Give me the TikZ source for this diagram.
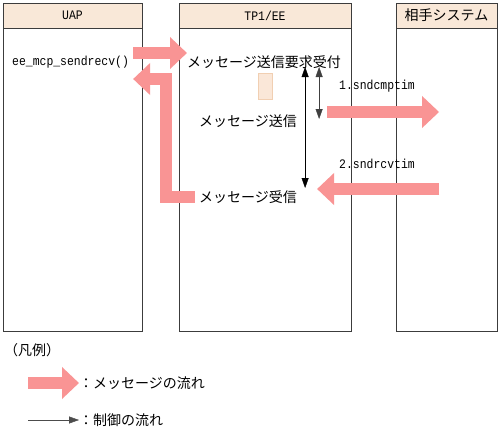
\documentclass[tikz,border=0pt]{standalone}
\usepackage{fontspec}
\newfontfamily\jpfont{Noto Sans CJK JP}
\newfontfamily\mnfont[FakeStretch=0.88]{Liberation Mono}
\usepackage{tikz}
\usetikzlibrary{arrows.meta,positioning,calc,shadows}
\usepackage{xcolor}
\definecolor{Frame}{HTML}{3C3C3C}
\definecolor{Head}{HTML}{F9E8D8}
\definecolor{Flow}{HTML}{F99494}
\definecolor{WaitFill}{HTML}{FAE7D8}
\definecolor{WaitLine}{HTML}{F1CFB2}
\tikzset{
 jtext/.style={inner sep=0pt, font={\jpfont\fontsize{14}{16}\selectfont}},
 mtext/.style={inner sep=0pt, font={\mnfont\fontsize{13}{15}\selectfont}},
 lanehead/.style={draw=Frame, fill=Head, minimum height=25pt, inner sep=0pt, outer sep=0pt,
   drop shadow={shadow xshift=1.2pt, shadow yshift=-1.2pt, fill=black!40, opacity=1}},
 lanebody/.style={draw=Frame, fill=white, minimum height=303pt, inner sep=0pt, outer sep=0pt,
   drop shadow={shadow xshift=1.2pt, shadow yshift=-1.2pt, fill=black!40, opacity=1}},
 waitbox/.style={draw=WaitLine, fill=WaitFill, minimum width=14pt, minimum height=26pt, inner sep=0pt},
 fatarrow/.style={draw=Flow, line width=12.5pt, line join=miter, -{Triangle[length=17pt,width=31pt]}},
 ctrlarrow/.style={draw=black, -{Triangle[length=10pt,width=7pt]}},
 ctrlboth/.style={draw=black, {Triangle[length=10pt,width=7pt]}-{Triangle[length=10pt,width=7pt]}}
}
\begin{document}
\begin{tikzpicture}[x=1pt,y=-1pt]
\useasboundingbox[fill=white] (0,0) rectangle (500,431);
\node[lanehead,mtext,minimum width=139pt,minimum height=25pt,anchor=north west] (uap) at (3,3) {UAP};
\node[lanebody,minimum width=139pt,anchor=north] (uapbody) at (uap.south) {};
\node[lanehead,mtext,minimum width=172pt,minimum height=25pt,anchor=north west] (tp) at (179,3) {TP1/EE};
\node[lanebody,minimum width=172pt,anchor=north] (tpbody) at (tp.south) {};
\node[lanehead,jtext,minimum width=101pt,minimum height=25pt,anchor=north west] (peer) at (396,3) {相手システム};
\node[lanebody,minimum width=101pt,anchor=north] (peerbody) at (peer.south) {};
\node[mtext,anchor=west] (call) at (12,62) {ee\_mcp\_sendrecv()};
\node[jtext,anchor=west] (accept) at (187,62) {メッセージ送信要求受付};
\node[waitbox] (wait) at (265,86) {};
\node[jtext] (send) at (248,121) {メッセージ送信};
\node[jtext] (recv) at (248,197) {メッセージ受信};
\node[mtext] (snd) at (377,86) {1.sndcmptim};
\node[mtext] (rcv) at (377,164) {2.sndrcvtim};
\draw[fatarrow] ([shift={(4,-9)}]call.east) -- ([shift={(0,-9)}]accept.west);
\draw[fatarrow] ([xshift=-4pt]recv.west) -| ($(call.east)+(37,17)$) -- ([shift={(4,17)}]call.east);
\draw[fatarrow] ([shift={(30,-9)}]send.east) -- ++(112,0);
\draw[fatarrow] ([shift={(142,-8)}]recv.east) -- ([shift={(20,-8)}]recv.east);
\draw[ctrlboth] ([shift={(-36,5)}]accept.east) -- ([shift={(-36,126)}]accept.east);
\draw[ctrlboth,draw=black!75] ([shift={(-22,5)}]accept.east) -- ([shift={(-22,57)}]accept.east);
\node[jtext,anchor=west] (legend) at (4,350) {（凡例）};
\node[jtext,anchor=west] (msgflow) at (79,383) {：メッセージの流れ};
\node[jtext,anchor=west] (ctrlflow) at (79,420) {：制御の流れ};
\draw[fatarrow] ([xshift=-51pt]msgflow.west) -- (msgflow.west);
\draw[ctrlarrow,draw=black!70] ([xshift=-51pt]ctrlflow.west) -- (ctrlflow.west);
\end{tikzpicture}
\end{document}
